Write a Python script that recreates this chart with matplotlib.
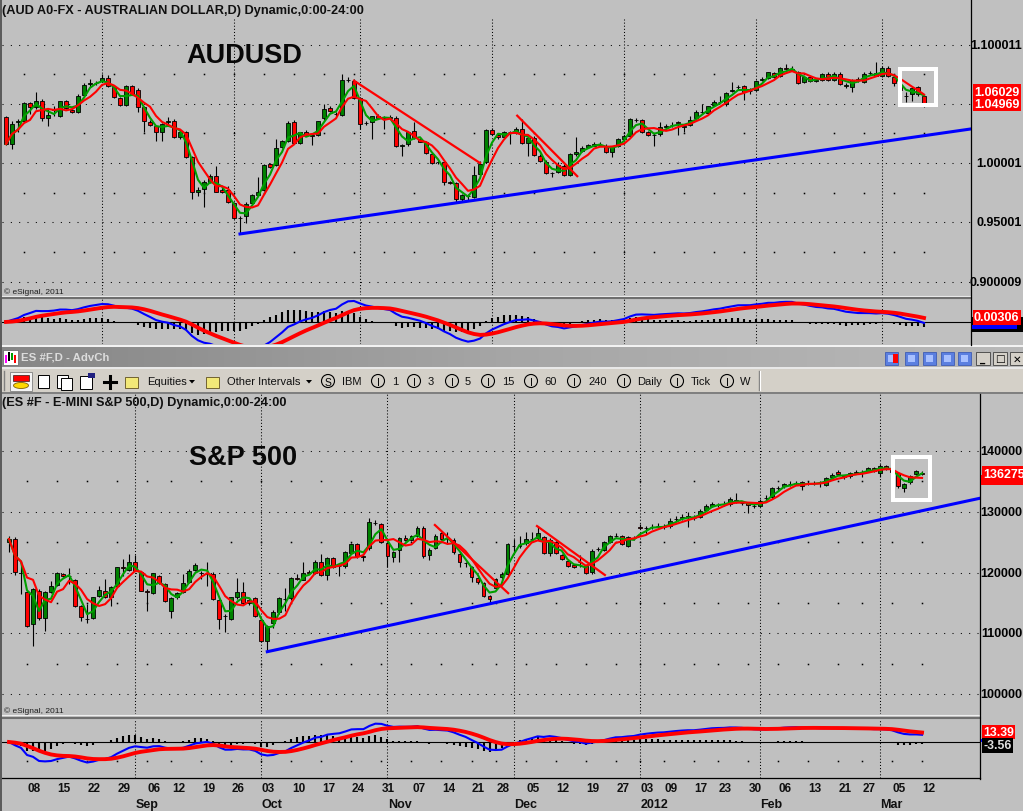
import numpy as np
import pandas as pd
import matplotlib.pyplot as plt
from matplotlib.patches import Rectangle, Ellipse, Polygon
from matplotlib.lines import Line2D
from matplotlib.transforms import blended_transform_factory as blend
from matplotlib.colors import LinearSegmentedColormap

plt.rcParams["font.family"] = ["Liberation Sans", "DejaVu Sans"]

W, H = 1023, 812
BG = "#c0c0c0"
UP, DN = "#008000", "#ff0000"
MA_FAST, MA_SLOW = "#00a000", "#ff0000"

# ── AUD A0-FX daily bars (10 Aug 2011 - 12 Mar 2012) ─────────────────────────
aud_open = [
    1.0386, 1.0161, 1.0344, 1.0358, 1.0504, 1.0471, 1.0527, 1.0378, 1.0451, 1.0395,
    1.0521, 1.0451, 1.0428, 1.0575, 1.0670, 1.0676, 1.0693, 1.0715, 1.0639, 1.0546,
    1.0493, 1.0648, 1.0619, 1.0471, 1.0350, 1.0310, 1.0260, 1.0350, 1.0358, 1.0218,
    1.0260, 1.0049, 0.9754, 0.9782, 0.9844, 0.9895, 0.9776, 0.9774, 0.9664, 0.9535,
    0.9552, 0.9664, 0.9731, 0.9776, 0.9990, 0.9984, 1.0133, 1.0190, 1.0350, 1.0170,
    1.0260, 1.0237, 1.0237, 1.0378, 1.0462, 1.0414, 1.0406, 1.0701, 1.0695, 1.0546,
    1.0336, 1.0344, 1.0395, 1.0378, 1.0386, 1.0381, 1.0147, 1.0159, 1.0274, 1.0204,
    1.0181, 1.0077, 1.0007, 1.0007, 0.9838, 0.9833, 0.9698, 0.9726, 0.9712, 0.9909,
    1.0007, 1.0279, 1.0237, 1.0218, 1.0260, 1.0254, 1.0288, 1.0170, 1.0209, 1.0063,
    1.0013, 0.9917, 0.9928, 0.9979, 0.9900, 1.0077, 1.0105, 1.0133, 1.0147, 1.0153,
    1.0147, 1.0097, 1.0141, 1.0204, 1.0232, 1.0367, 1.0364, 1.0260, 1.0237, 1.0243,
    1.0308, 1.0322, 1.0344, 1.0308, 1.0322, 1.0378, 1.0428, 1.0420, 1.0490, 1.0518,
    1.0496, 1.0611, 1.0639, 1.0648, 1.0605, 1.0619, 1.0704, 1.0715, 1.0760, 1.0732,
    1.0799, 1.0788, 1.0771, 1.0681, 1.0723, 1.0695, 1.0704, 1.0752, 1.0704, 1.0752,
    1.0653, 1.0645, 1.0704, 1.0687, 1.0760, 1.0760, 1.0732, 1.0799, 1.0723, 1.0640,
    1.0563, 1.0583, 1.0639, 1.0569,
]
aud_high = [
    1.0400, 1.0358, 1.0372, 1.0513, 1.0518, 1.0597, 1.0541, 1.0457, 1.0479, 1.0527,
    1.0535, 1.0462, 1.0583, 1.0676, 1.0709, 1.0695, 1.0752, 1.0743, 1.0653, 1.0555,
    1.0659, 1.0659, 1.0631, 1.0485, 1.0361, 1.0322, 1.0338, 1.0386, 1.0372, 1.0274,
    1.0274, 1.0057, 0.9796, 0.9861, 0.9909, 0.9973, 0.9796, 0.9810, 0.9675, 0.9557,
    0.9670, 0.9740, 0.9880, 0.9993, 1.0001, 1.0204, 1.0198, 1.0358, 1.0364, 1.0265,
    1.0282, 1.0249, 1.0358, 1.0499, 1.0479, 1.0428, 1.0752, 1.0723, 1.0709, 1.0558,
    1.0358, 1.0400, 1.0414, 1.0400, 1.0406, 1.0395, 1.0161, 1.0274, 1.0344, 1.0218,
    1.0190, 1.0086, 1.0021, 1.0021, 0.9852, 0.9844, 0.9740, 0.9740, 0.9979, 1.0021,
    1.0288, 1.0294, 1.0254, 1.0274, 1.0274, 1.0302, 1.0372, 1.0218, 1.0226, 1.0077,
    1.0024, 0.9928, 1.0007, 0.9993, 1.0083, 1.0218, 1.0141, 1.0161, 1.0176, 1.0176,
    1.0161, 1.0147, 1.0209, 1.0237, 1.0378, 1.0378, 1.0372, 1.0268, 1.0254, 1.0350,
    1.0327, 1.0344, 1.0358, 1.0330, 1.0400, 1.0451, 1.0499, 1.0485, 1.0535, 1.0563,
    1.0597, 1.0681, 1.0659, 1.0659, 1.0631, 1.0704, 1.0723, 1.0771, 1.0771, 1.0808,
    1.0836, 1.0816, 1.0780, 1.0732, 1.0738, 1.0715, 1.0760, 1.0766, 1.0766, 1.0766,
    1.0676, 1.0709, 1.0723, 1.0766, 1.0780, 1.0850, 1.0816, 1.0822, 1.0738, 1.0660,
    1.0597, 1.0639, 1.0653, 1.0583,
]
aud_low = [
    1.0153, 1.0119, 1.0260, 1.0344, 1.0414, 1.0457, 1.0358, 1.0316, 1.0400, 1.0386,
    1.0457, 1.0423, 1.0423, 1.0569, 1.0639, 1.0659, 1.0687, 1.0642, 1.0546, 1.0485,
    1.0485, 1.0575, 1.0428, 1.0260, 1.0316, 1.0190, 1.0190, 1.0316, 1.0209, 1.0204,
    1.0041, 0.9698, 0.9726, 0.9628, 0.9833, 0.9754, 0.9748, 0.9664, 0.9529, 0.9403,
    0.9495, 0.9656, 0.9726, 0.9768, 0.9956, 0.9979, 1.0125, 1.0181, 1.0161, 1.0161,
    1.0232, 1.0153, 1.0226, 1.0367, 1.0428, 1.0395, 1.0400, 1.0687, 1.0541, 1.0288,
    1.0322, 1.0204, 1.0372, 1.0288, 1.0372, 1.0133, 1.0057, 1.0147, 1.0204, 1.0176,
    1.0077, 0.9993, 0.9993, 0.9816, 0.9824, 0.9670, 0.9684, 0.9684, 0.9703, 0.9895,
    1.0001, 1.0237, 1.0204, 1.0204, 1.0161, 1.0246, 1.0161, 1.0063, 1.0057, 1.0007,
    0.9909, 0.9880, 0.9917, 0.9895, 0.9889, 1.0063, 1.0097, 1.0125, 1.0141, 1.0141,
    1.0086, 1.0049, 1.0133, 1.0195, 1.0226, 1.0350, 1.0254, 1.0226, 1.0147, 1.0232,
    1.0294, 1.0302, 1.0237, 1.0260, 1.0316, 1.0372, 1.0414, 1.0412, 1.0485, 1.0507,
    1.0485, 1.0597, 1.0625, 1.0535, 1.0583, 1.0608, 1.0693, 1.0709, 1.0715, 1.0723,
    1.0788, 1.0777, 1.0664, 1.0673, 1.0681, 1.0681, 1.0695, 1.0695, 1.0695, 1.0659,
    1.0631, 1.0603, 1.0687, 1.0676, 1.0743, 1.0732, 1.0723, 1.0726, 1.0653, 1.0600,
    1.0513, 1.0527, 1.0569, 1.0471,
]
aud_close = [
    1.0161, 1.0330, 1.0355, 1.0504, 1.0471, 1.0527, 1.0378, 1.0406, 1.0457, 1.0521,
    1.0462, 1.0428, 1.0569, 1.0659, 1.0676, 1.0678, 1.0715, 1.0648, 1.0555, 1.0493,
    1.0648, 1.0583, 1.0471, 1.0353, 1.0324, 1.0260, 1.0330, 1.0353, 1.0218, 1.0260,
    1.0049, 0.9754, 0.9776, 0.9844, 0.9895, 0.9760, 0.9754, 0.9670, 0.9535, 0.9538,
    0.9656, 0.9731, 0.9760, 0.9984, 0.9965, 1.0125, 1.0190, 1.0336, 1.0170, 1.0260,
    1.0237, 1.0226, 1.0353, 1.0457, 1.0437, 1.0412, 1.0704, 1.0704, 1.0546, 1.0330,
    1.0338, 1.0395, 1.0378, 1.0381, 1.0383, 1.0141, 1.0150, 1.0265, 1.0209, 1.0181,
    1.0086, 1.0001, 1.0010, 0.9844, 0.9836, 0.9698, 0.9731, 0.9723, 0.9900, 0.9993,
    1.0279, 1.0246, 1.0218, 1.0260, 1.0263, 1.0288, 1.0170, 1.0209, 1.0069, 1.0021,
    0.9917, 0.9919, 0.9984, 0.9900, 1.0077, 1.0097, 1.0125, 1.0153, 1.0161, 1.0156,
    1.0097, 1.0133, 1.0204, 1.0226, 1.0372, 1.0364, 1.0265, 1.0237, 1.0240, 1.0308,
    1.0310, 1.0320, 1.0341, 1.0310, 1.0367, 1.0428, 1.0430, 1.0479, 1.0518, 1.0516,
    1.0591, 1.0614, 1.0642, 1.0597, 1.0608, 1.0695, 1.0707, 1.0766, 1.0723, 1.0799,
    1.0797, 1.0791, 1.0673, 1.0723, 1.0690, 1.0698, 1.0752, 1.0704, 1.0752, 1.0667,
    1.0655, 1.0701, 1.0706, 1.0752, 1.0757, 1.0738, 1.0799, 1.0738, 1.0673, 1.0615,
    1.0566, 1.0631, 1.0583, 1.0497,
]

# ── ES #F daily bars (3 Aug 2011 - 12 Mar 2012), eSignal units (x100) ───────
es_open = [
    124965, 125514, 119917, 116735, 111522, 117009, 112455, 116844, 117997, 119752,
    119369, 118820, 114430, 112400, 112455, 116077, 117009, 115912, 117722, 120850,
    120466, 121783, 120027, 116900, 116625, 119369, 118107, 113717, 115912, 116844,
    118381, 120466, 119917, 119752, 119700, 115527, 112894, 112345, 115912, 116844,
    114978, 115747, 112236, 108778, 111687, 113443, 115637, 115747, 119039, 118820,
    120027, 119917, 121783, 119588, 122331, 121015, 121015, 123209, 124691, 122661,
    123978, 128147, 127928, 124856, 122496, 123758, 125733, 125404, 126062, 127270,
    122880, 123978, 126501, 125514, 125404, 123045, 121563, 120850, 119039, 118271,
    116077, 117393, 119204, 119752, 124417, 124400, 124856, 125514, 125624, 125789,
    123209, 124965, 122880, 121947, 121234, 121673, 121124, 120027, 123868, 123758,
    125075, 126063, 125953, 124417, 125624, 127434, 127270, 127434, 127599, 127434,
    127599, 128806, 129081, 129245, 128916, 129081, 130343, 130891, 131111, 131275,
    131275, 131989, 131440, 131440, 131001, 130891, 132208, 132373, 133854, 134183,
    134568, 134732, 134842, 134732, 134732, 134732, 134403, 135665, 136598, 135939,
    135830, 136488, 136488, 136763, 137147, 136378, 137476, 137000, 136378, 133854,
    134842, 136213, 136300,
]
es_high = [
    126062, 125800, 121947, 117000, 117393, 117300, 117000, 118655, 120100, 119900,
    120685, 119000, 114600, 114814, 116000, 117832, 118930, 117700, 120900, 122222,
    123044, 122880, 120200, 117300, 120000, 119600, 118300, 115900, 116800, 119752,
    120500, 121500, 120300, 121673, 120100, 115700, 113200, 116000, 119039, 118381,
    115800, 116000, 112400, 111400, 113800, 115900, 117393, 119200, 119752, 121673,
    120400, 122000, 123044, 122500, 122500, 121300, 123600, 124900, 124900, 123000,
    128971, 128600, 128200, 125000, 123600, 125800, 126100, 126200, 127600, 127600,
    124000, 126337, 126700, 126611, 125600, 123300, 121800, 121000, 119200, 118500,
    116300, 119100, 120100, 124900, 125514, 126063, 126612, 126612, 127599, 126000,
    125600, 125200, 123100, 122100, 121400, 122880, 121300, 123800, 124200, 125200,
    126200, 126500, 126200, 126000, 126000, 128000, 127700, 128000, 128200, 128000,
    128900, 129300, 129600, 129900, 129400, 130500, 131300, 131600, 131500, 131700,
    132500, 133086, 131800, 131600, 131300, 132100, 132700, 134100, 134200, 134800,
    135000, 135100, 135100, 135100, 135100, 135100, 135800, 136400, 136900, 136100,
    136600, 136800, 136800, 137400, 137400, 137800, 137700, 137200, 136600, 134700,
    136100, 136900, 136700,
]
es_low = [
    123319, 119588, 116461, 111000, 107846, 112200, 110424, 116600, 117800, 119200,
    118107, 114300, 112071, 111687, 112300, 115900, 115800, 114540, 117600, 119478,
    120300, 120200, 116900, 113717, 116400, 118100, 115200, 112455, 115700, 116700,
    118200, 120300, 118930, 117832, 115500, 110698, 110150, 112200, 115700, 114800,
    114700, 112600, 108600, 106858, 110800, 113200, 113717, 115500, 118700, 118700,
    119700, 119700, 119400, 118820, 120700, 119478, 120800, 123000, 122400, 121947,
    123700, 127800, 124856, 120850, 121673, 121673, 125200, 125200, 125900, 122400,
    122000, 123800, 125300, 124691, 123100, 120850, 120850, 118381, 118100, 115900,
    114814, 117200, 119000, 119500, 123594, 124000, 124600, 125200, 125400, 123000,
    122771, 123000, 122000, 120900, 120700, 120850, 119700, 119800, 123500, 123600,
    124900, 125800, 124500, 124200, 125300, 127100, 126337, 127100, 127300, 127100,
    127400, 128500, 128700, 127434, 128600, 128900, 130100, 130700, 130800, 130900,
    131000, 131500, 131100, 129794, 130600, 130700, 131900, 132100, 133500, 133900,
    134200, 134400, 133635, 134400, 134400, 134019, 134200, 135400, 136000, 135400,
    135600, 136200, 135665, 136500, 136500, 135665, 136800, 136300, 133900, 133300,
    134600, 136000, 136000,
]
es_close = [
    125514, 120027, 119900, 111248, 117283, 112455, 116844, 117722, 119917, 119369,
    119400, 114430, 112620, 112345, 115912, 117174, 115912, 117558, 120850, 120800,
    121783, 120301, 117009, 116844, 119862, 118271, 115363, 115747, 116625, 118271,
    120301, 121234, 119900, 119800, 115637, 112345, 112850, 115912, 116844, 114978,
    115527, 112784, 108778, 111248, 113443, 115747, 115600, 119039, 119000, 119917,
    120000, 121783, 119588, 122331, 120850, 121000, 123429, 124691, 122661, 122600,
    128257, 128100, 125075, 122661, 123429, 125624, 125404, 125952, 127270, 122661,
    123758, 126062, 125514, 125500, 123319, 121783, 121500, 119204, 118381, 116077,
    115637, 118930, 119752, 124691, 124400, 124500, 125514, 125500, 126502, 123209,
    125404, 123209, 122222, 121014, 120850, 121700, 119917, 123594, 123900, 124965,
    125953, 126000, 124691, 125789, 125650, 127400, 127300, 127450, 127600, 127500,
    128532, 128800, 129050, 129200, 128950, 130178, 130891, 131275, 131100, 131250,
    132098, 131660, 131450, 131111, 131000, 131824, 132200, 133854, 133850, 134568,
    134550, 134700, 134293, 134750, 134700, 134750, 135501, 136049, 136214, 135665,
    136378, 136450, 136500, 137147, 136763, 137586, 137037, 136500, 134293, 134567,
    135939, 136762, 136275,
]

# trendlines: (bar positions, prices)
aud_blue_tl = ([39, 160.8], [0.9403, 1.0288])
aud_red_tls = [([58, 79], [1.0695, 1.0001]), ([85.2, 95.2], [1.0400, 0.9890])]
es_blue_tl = ([43, 161.6], [106968, 132214])
es_red_tls = [([70.9, 83.1], [127820, 116600]), ([87.9, 99.2], [127650, 119590])]
aud_box = ([149.05, 155.05], [1.0490, 1.0793])
es_box = ([147.2, 153.4], [131984, 139012])

aud_ticks = [1.10, 1.00, 0.95, 0.90]
aud_tick_labels = ["1.100011", "1.00001", "0.95001", "0.900009"]
es_ticks = [140000, 130000, 120000, 110000, 100000]
es_tick_labels = ["140000", "130000", "120000", "110000", "100000"]

aud_dates = pd.bdate_range("2011-08-10", "2012-03-12")
es_holidays = pd.to_datetime(["2011-09-05", "2011-11-24", "2011-12-26",
                              "2012-01-02", "2012-01-16", "2012-02-20"])
es_dates = pd.bdate_range("2011-08-03", "2012-03-12")
es_dates = es_dates[~es_dates.isin(es_holidays)]
for arr in (aud_open, aud_high, aud_low, aud_close):
    assert len(arr) == len(aud_dates), len(arr)
for arr in (es_open, es_high, es_low, es_close):
    assert len(arr) == len(es_dates), len(arr)

# ── helpers ─────────────────────────────────────────────────────────────────
fig = plt.figure(figsize=(W / 100, H / 100), dpi=100, facecolor=BG)


def px_axes(x0, y0, x1, y1):
    ax = fig.add_axes([x0 / W, 1 - y1 / H, (x1 - x0) / W, (y1 - y0) / H])
    ax.set_facecolor(BG)
    for s in ax.spines.values():
        s.set_visible(False)
    ax.set_xticks([])
    ax.set_yticks([])
    return ax


def px_rect(x0, y0, x1, y1, fc, ec="none", lw=0.0, z=6):
    fig.add_artist(Rectangle((x0 / W, 1 - y1 / H), (x1 - x0) / W, (y1 - y0) / H,
                             transform=fig.transFigure, facecolor=fc, edgecolor=ec,
                             lw=lw, zorder=z))


def px_line(xs, ys, color, lw=0.72, z=7):
    fig.add_artist(Line2D([x / W for x in xs], [1 - y / H for y in ys],
                          transform=fig.transFigure, color=color, lw=lw, zorder=z))


def px_text(x, y, s, **kw):
    kw.setdefault("va", "center")
    kw.setdefault("zorder", 8)
    fig.text(x / W, 1 - y / H, s, **kw)


def month_starts(dates):
    return [i for i in range(1, len(dates)) if dates[i].month != dates[i - 1].month]


def week_starts(dates):
    return [i for i in range(1, len(dates)) if dates[i].weekday() < dates[i - 1].weekday()]


def grid(ax, dates, major, minor, top=1.0):
    for i in month_starts(dates):
        ax.axvline(i, ymax=top, color="black", lw=0.75, ls=(0, (1, 2)), zorder=1)
    for v in major:
        ax.axhline(v, color="black", lw=0.75, ls=(0, (1, 7)), zorder=1)
    wk = week_starts(dates)
    for v in minor:
        ax.plot(wk, [v] * len(wk), ls="none", marker="s", ms=1.1, mew=0,
                color="black", zorder=1)


def candles(ax, o, h, l, c):
    o, h, l, c = map(np.asarray, (o, h, l, c))
    x = np.arange(len(c))
    ax.vlines(x, l, h, color="black", lw=0.8, zorder=3)
    body = np.maximum(np.abs(c - o), 1e-9)
    ax.bar(x, body, bottom=np.minimum(o, c), width=0.64,
           color=np.where(c >= o, UP, DN), edgecolor="black", lw=0.6, zorder=4)
    s = pd.Series(c)
    ax.plot(x, s.rolling(3, min_periods=1).mean(), color=MA_FAST, lw=1.5, zorder=5)
    ax.plot(x, s.rolling(5, min_periods=1).mean(), color=MA_SLOW, lw=1.5, zorder=5)


def macd_panel(ax, close):
    s = pd.Series(close)
    m = s.ewm(span=12, adjust=False).mean() - s.ewm(span=26, adjust=False).mean()
    sig = m.ewm(span=9, adjust=False).mean()
    x = np.arange(len(s))
    ax.axhline(0, color="black", lw=0.8, zorder=2)
    ax.vlines(x, 0, m - sig, color="black", lw=1.5, zorder=3)
    ax.plot(x, m, color="#0000ff", lw=1.5, zorder=4)
    ax.plot(x, sig, color="#ff0000", lw=2.8, zorder=5)


def value_label(ax, value, text, fc, tc, x_px, size=9):
    # right-axis value flag, drawn at figure level so it stacks above the other flags
    tr = blend(fig.transFigure, ax.transData)
    fig.text(x_px / W, value, text, transform=tr, ha="left", va="center", fontsize=size,
             fontweight="bold", color=tc, zorder=12,
             bbox=dict(boxstyle="square,pad=0.1", fc=fc, ec="none"))


def tick_labels(ax, ticks, labels):
    tr = blend(fig.transFigure, ax.transData)
    for v, s in zip(ticks, labels):
        fig.text(1022 / W, v, s, transform=tr, ha="right", va="center", fontsize=9,
                 fontweight="bold", color="black", zorder=8)


# ── top window: AUD ─────────────────────────────────────────────────────────
ax1 = px_axes(2, 0, 971, 296)
ax1.set_xlim(-0.667, 160.83)
ax1.set_ylim(0.88883, 1.13836)
grid(ax1, aud_dates, [1.10, 1.05, 1.00, 0.95, 0.90], [1.075, 1.025, 0.975, 0.925],
     top=1 - 20 / 296)
candles(ax1, aud_open, aud_high, aud_low, aud_close)
ax1.plot(*aud_blue_tl, color="#0000ff", lw=2.2, zorder=6)
for tl in aud_red_tls:
    ax1.plot(*tl, color="#ff0000", lw=1.6, zorder=6)
bx, by = aud_box
ax1.add_patch(Rectangle((bx[0], by[0]), bx[1] - bx[0], by[1] - by[0], fill=False,
                        ec="white", lw=2.9, zorder=7))
tick_labels(ax1, aud_ticks, aud_tick_labels)
value_label(ax1, 1.06029, "1.06029", "#ff0000", "white", 974)
value_label(ax1, 1.04969, "1.04969", "#ff0000", "white", 974)

ax1m = px_axes(2, 300, 971, 345)
ax1m.set_xlim(-0.667, 160.83)
ax1m.set_ylim(-0.0150, 0.0156)
grid(ax1m, aud_dates, [], [])
macd_panel(ax1m, aud_close)
# partly hidden MACD / histogram value flags under the signal label
px_rect(972, 318, 1023, 333, "black", z=9)
px_rect(972, 325.5, 1017, 329.5, "#0000ff", z=10)
value_label(ax1m, 0.00306, "0.00306", "#ff0000", "white", 974)

px_text(2, 11, "(AUD A0-FX - AUSTRALIAN DOLLAR,D) Dynamic,0:00-24:00", fontsize=9.2,
        fontweight="bold", color="#101010")
px_text(244, 56, "AUDUSD", fontsize=19.5, fontweight="bold", ha="center", color="#080808")
px_text(4, 292, "\u00a9 eSignal, 2011", fontsize=6, color="#202020")

# separators / frame (top)
px_line([0, 971], [296.5, 296.5], "#eeeeee", lw=0.8)
px_line([0, 971], [299.3, 299.3], "#6e6e6e", lw=1.5)
px_line([971, 971], [0, 346], "black", lw=0.9)
px_line([971, 1023], [323, 323], "black", lw=0.8)

# ── window title bar + toolbar ──────────────────────────────────────────────
px_rect(0, 345.5, W, 347.8, "#f2f2f2", z=6)
tb = fig.add_axes([0, 1 - 368 / H, 1, 20 / H])
tb.imshow(np.linspace(0, 1, 256)[None, :], aspect="auto", extent=(0, W, 0, 1),
          cmap=LinearSegmentedColormap.from_list("bar", ["#868686", "#a6a6a6", "#b9b9b9"]))
tb.axis("off")
px_rect(3, 351, 18, 366, "white", ec="#606060", lw=0.5, z=8)
for xx, yy0, yy1, col in [(5, 356, 364, "#ff00ff"), (8, 353, 362, "black"),
                          (11, 354, 361, "#00a000"), (14, 356, 364, "#ff0000")]:
    px_rect(xx, yy0, xx + 2, yy1, col, z=9)
px_text(21, 358, "ES #F,D - AdvCh", fontsize=8.2, fontweight="bold", color="#dcdcdc")
for x0 in [885, 905, 923, 941, 958]:
    px_rect(x0, 353, x0 + 13, 366, "#5b7fe0", ec="#3050b0", lw=0.5, z=8)
    px_rect(x0 + 3, 356, x0 + 10, 363, "#a8c0ff", z=9)
px_rect(893, 355, 898, 364, "#ff0000", z=10)
for x0, sym in [(976, "_"), (993, "\u25a1"), (1010, "\u2715")]:
    px_rect(x0, 353, x0 + 14, 366, "#d4d0c8", ec="#404040", lw=0.6, z=8)
    px_text(x0 + 7, 359.5, sym, fontsize=7.5, fontweight="bold", ha="center",
            color="black", family=["DejaVu Sans"], zorder=9)

px_rect(0, 368, W, 370, "#e8e8e8", z=6)
px_rect(0, 370, W, 393, "#d4d0c8", z=6)
px_rect(0, 393, W, 394.6, "#808080", z=6)
px_line([4, 4], [372, 391], "#808080", lw=1.0)
px_line([759, 759], [372, 391], "#808080", lw=1.0)
px_line([760, 760], [372, 391], "white", lw=0.8)
# small toolbar icons
px_rect(10, 373, 32, 392, "#f4f4f4", ec="#808080", lw=0.6, z=7)
px_rect(13, 376, 29, 382, "#ff0000", ec="black", lw=0.4, z=8)
fig.add_artist(Ellipse((21 / W, 1 - 386.5 / H), 15 / W, 6 / H, transform=fig.transFigure,
                       fc="#ffd800", ec="#806000", lw=0.6, zorder=8))
for x0 in [38, 57]:
    px_rect(x0, 376, x0 + 11, 389, "white", ec="black", lw=0.7, z=8)
px_rect(61, 379, 72, 391, "white", ec="black", lw=0.7, z=8)
px_rect(80, 377, 92, 390, "white", ec="black", lw=0.7, z=8)
px_rect(88, 374, 95, 379, "#202080", z=9)
px_line([103.5, 115.5], [382.5, 382.5], "black", lw=2.2)
px_line([109.5, 109.5], [376.5, 388.5], "black", lw=2.2)
for x0 in [125, 206]:
    px_rect(x0, 378, x0 + 13, 389, "#f2e878", ec="#605020", lw=0.6, z=8)
px_text(147, 382, "Equities", fontsize=8, color="#101010")
px_text(227, 382, "Other Intervals", fontsize=8, color="#101010")
for xc in [192, 309]:
    fig.add_artist(Polygon([((xc - 3) / W, 1 - 381 / H), ((xc + 3) / W, 1 - 381 / H),
                            (xc / W, 1 - 384.5 / H)], closed=True,
                           transform=fig.transFigure, fc="black", ec="none", zorder=8))
circle_x = [328, 378, 414, 452, 488, 531, 574, 624, 677, 727]
for k, xc in enumerate(circle_x):
    fig.add_artist(Ellipse((xc / W, 1 - 382 / H), 13 / W, 13 / H, transform=fig.transFigure,
                           fill=False, ec="black", lw=0.8, zorder=8))
    px_text(xc, 382.5, "S" if k == 0 else "I", fontsize=7.5, ha="center", color="black")
for s, x0 in [("IBM", 342), ("1", 392), ("3", 428), ("5", 465), ("15", 502), ("60", 544),
              ("240", 588), ("Daily", 637), ("Tick", 691), ("W", 740)]:
    px_text(x0, 382, s, fontsize=8, color="#101010")

# ── bottom window: ES ───────────────────────────────────────────────────────
ax2 = px_axes(2, 395, 980, 715)
ax2.set_xlim(-1.165, 161.65)
ax2.set_ylim(96710, 149382)
grid(ax2, es_dates, es_ticks, [135000, 125000, 115000, 105000])
candles(ax2, es_open, es_high, es_low, es_close)
ax2.plot(*es_blue_tl, color="#0000ff", lw=2.2, zorder=6)
for tl in es_red_tls:
    ax2.plot(*tl, color="#ff0000", lw=1.6, zorder=6)
bx, by = es_box
ax2.add_patch(Rectangle((bx[0], by[0]), bx[1] - bx[0], by[1] - by[0], fill=False,
                        ec="white", lw=2.9, zorder=7))
tick_labels(ax2, es_ticks, es_tick_labels)
px_rect(981, 476, 1023, 486, "#ff0000", z=9)
value_label(ax2, 136275, "136275", "#ff0000", "white", 983)

ax2m = px_axes(2, 720, 980, 779)
ax2m.set_xlim(-1.165, 161.65)
ax2m.set_ylim(-48.2, 30.8)
grid(ax2m, es_dates, [], [-25])
macd_panel(ax2m, np.asarray(es_close) / 100.0)
px_rect(981, 739.5, 1013, 743, "#0000ff", z=9)
value_label(ax2m, 13.39, "13.39", "#ff0000", "white", 983, size=8.8)
value_label(ax2m, -4.4, "-3.56", "black", "#e0e0e0", 983, size=8.8)

px_text(2, 403, "(ES #F - E-MINI S&P 500,D) Dynamic,0:00-24:00", fontsize=9.2,
        fontweight="bold", color="#101010")
px_text(243, 458, "S&P 500", fontsize=19.5, fontweight="bold", ha="center", color="#080808")
px_text(4, 711, "\u00a9 eSignal, 2011", fontsize=6, color="#202020")

px_line([0, 980], [716, 716], "#eeeeee", lw=0.8)
px_line([0, 980], [718.8, 718.8], "#6e6e6e", lw=1.5)
px_line([980, 980], [395, 779.5], "black", lw=0.9)
px_line([2, 980], [779, 779], "black", lw=0.9)
px_line([1, 1], [0, H], "#5a5a5a", lw=1.4)

# x-axis labels (bottom chart dates)
trx = blend(ax2m.transData, fig.transFigure)
for i in week_starts(es_dates):
    fig.text(i + 0.1, 1 - 789 / H, es_dates[i].strftime("%d"), transform=trx, ha="left",
             va="center", fontsize=8.5, fontweight="bold", color="#101010")
for i in month_starts(es_dates):
    d = es_dates[i]
    name = str(d.year) if d.month == 1 else d.strftime("%b")
    fig.text(i + 0.1, 1 - 805 / H, name, transform=trx, ha="left", va="center",
             fontsize=9, fontweight="bold", color="#101010")

fig.savefig("out.png", dpi=100, facecolor=BG)
